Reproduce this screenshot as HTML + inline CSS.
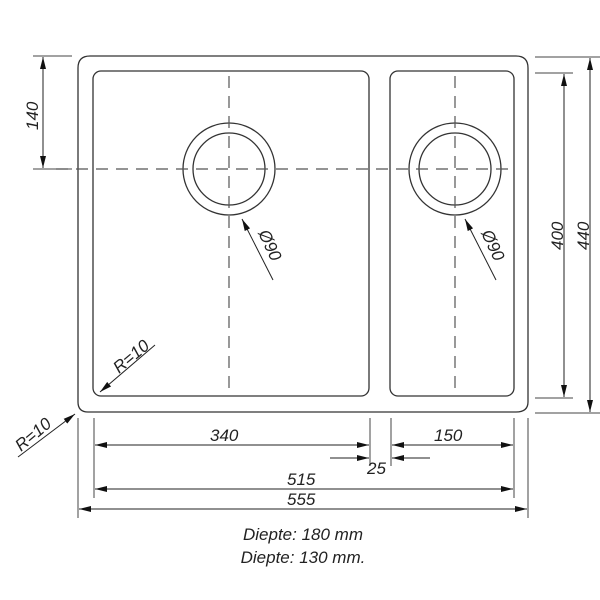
<!DOCTYPE html>
<html><head><style>body{margin:0;background:#fff}svg{display:block}text{font-family:"Liberation Sans",sans-serif;font-style:italic;fill:#222;font-size:17px}</style></head><body>
<svg width="600" height="600" viewBox="0 0 600 600" xmlns="http://www.w3.org/2000/svg">
<defs><marker id="a" viewBox="0 0 12 6" refX="12" refY="3" markerWidth="12" markerHeight="6" markerUnits="userSpaceOnUse" orient="auto-start-reverse"><path d="M0,0L12,3L0,6z" fill="#111"/></marker></defs>
<g fill="none" stroke="#333" stroke-width="1.3">
<path d="M90,56H516Q528,56 528,68V402Q528,412 516,412H88Q78,412 78,402V68Q78,56 90,56Z"/>
<rect x="93" y="71" width="276" height="325" rx="8"/>
<rect x="390" y="71" width="124" height="325" rx="8"/>
<circle cx="229" cy="169" r="46"/><circle cx="229" cy="169" r="36"/>
<circle cx="455" cy="169" r="46"/><circle cx="455" cy="169" r="36"/>
</g>
<g stroke="#555" stroke-width="1.2" stroke-dasharray="12,8">
<line x1="56" y1="169" x2="510" y2="169"/>
<line x1="229" y1="76" x2="229" y2="392"/>
<line x1="455" y1="76" x2="455" y2="392"/>
</g>
<g stroke="#444" stroke-width="1">
<line x1="33" y1="56" x2="72" y2="56"/><line x1="33" y1="169" x2="72" y2="169"/>
<line x1="535" y1="73" x2="573" y2="73"/><line x1="535" y1="398" x2="573" y2="398"/>
<line x1="535" y1="57" x2="600" y2="57"/><line x1="535" y1="413" x2="600" y2="413"/>
<line x1="78" y1="418" x2="78" y2="518"/><line x1="528" y1="418" x2="528" y2="518"/>
<line x1="94" y1="418" x2="94" y2="498"/><line x1="514" y1="418" x2="514" y2="498"/>
<line x1="370" y1="418" x2="370" y2="466"/><line x1="391" y1="418" x2="391" y2="466"/>
</g>
<g stroke="#222" stroke-width="1" marker-start="url(#a)" marker-end="url(#a)">
<line x1="43" y1="57" x2="43" y2="168"/>
<line x1="564" y1="74" x2="564" y2="397"/>
<line x1="590" y1="58" x2="590" y2="412"/>
<line x1="95" y1="445" x2="369" y2="445"/>
<line x1="392" y1="445" x2="513" y2="445"/>
<line x1="95" y1="489" x2="513" y2="489"/>
<line x1="79" y1="509" x2="527" y2="509"/>
</g>
<g stroke="#222" stroke-width="1" marker-end="url(#a)">
<line x1="330" y1="458" x2="369" y2="458"/>
<line x1="430" y1="458" x2="392" y2="458"/>
<line x1="273" y1="280" x2="242" y2="219"/>
<line x1="496" y1="280" x2="465" y2="219"/>
<line x1="155" y1="345" x2="100" y2="392"/>
<line x1="18" y1="457" x2="75" y2="414"/>
</g>
<text x="210" y="441">340</text><text x="434" y="441">150</text>
<text x="367" y="474">25</text>
<text x="287" y="485">515</text><text x="287" y="505">555</text>
<text transform="translate(38,130) rotate(-90)">140</text>
<text transform="translate(563,250) rotate(-90)">400</text>
<text transform="translate(589,250) rotate(-90)">440</text>
<text transform="translate(258,233) rotate(65)">Ø90</text>
<text transform="translate(481,233) rotate(65)">Ø90</text>
<text transform="translate(119,374) rotate(-40)">R=10</text>
<text transform="translate(21,452) rotate(-40)">R=10</text>
<text x="303" y="540" text-anchor="middle" font-size="15">Diepte: 180 mm</text>
<text x="303" y="563" text-anchor="middle" font-size="15">Diepte: 130 mm.</text>
</svg>
</body></html>
